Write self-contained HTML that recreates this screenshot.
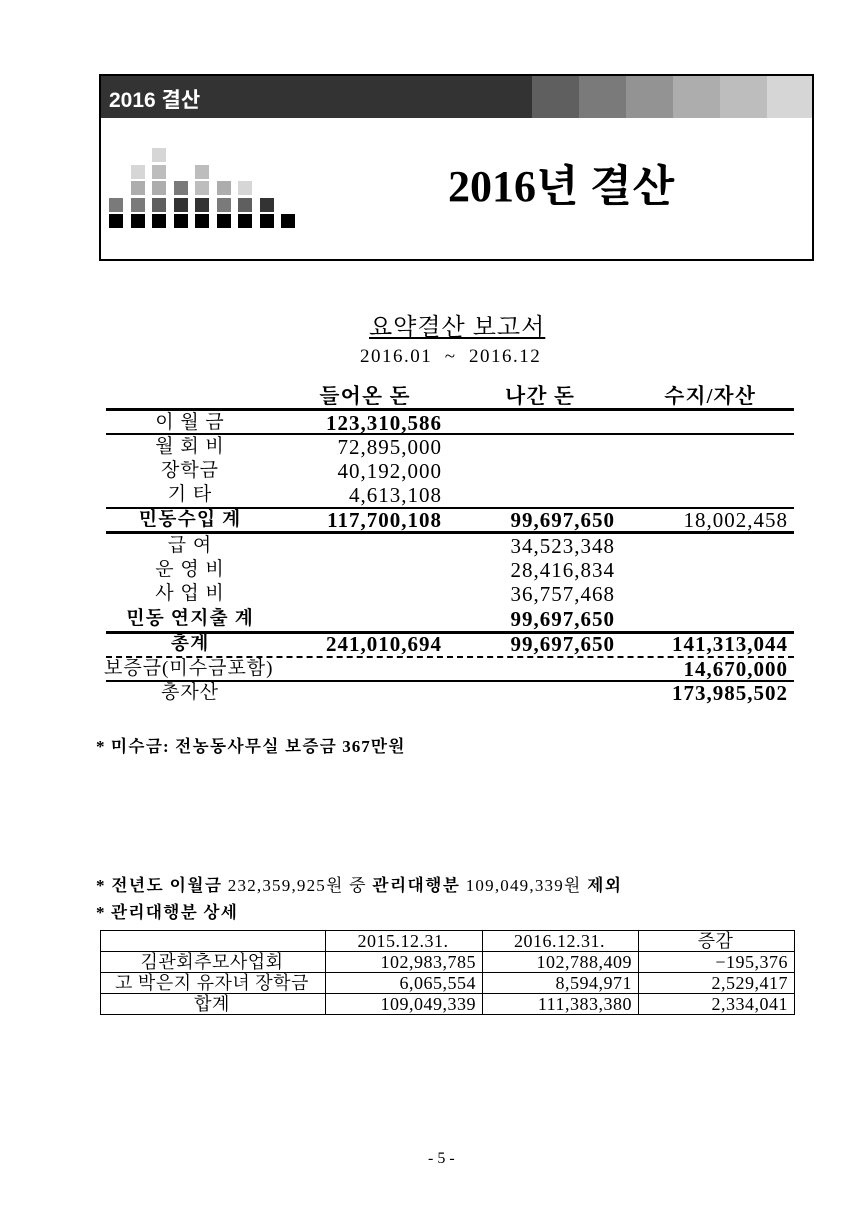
<!DOCTYPE html>
<html><head><meta charset="utf-8"><style>
body{margin:0;width:860px;height:1214px;background:#fff;position:relative;overflow:hidden;font-family:"Liberation Serif","Noto Serif CJK SC","Noto Sans CJK KR",serif;color:#000}
.a{position:absolute;white-space:nowrap}
.sq{position:absolute;width:14px;height:14px}
.t{position:absolute;font-size:21px;line-height:24px;letter-spacing:1px;white-space:nowrap}
.r{text-align:right}
.c{text-align:center}
.b{font-weight:bold}
.hl{position:absolute;left:106px;width:688px;background:#000}
table.s{position:absolute;left:100px;top:930px;border-collapse:collapse;font-size:18px;letter-spacing:0.5px}
table.s td{border:1px solid #000;height:20px;padding:0 6px 0 4px;line-height:20px;white-space:nowrap}
</style></head><body>
<div class="a" style="left:99px;top:74px;width:711px;height:183px;border:2px solid #000"></div>
<div class="a" style="left:101px;top:76px;width:431px;height:42px;background:#333"></div>
<div class="a" style="left:109px;top:84px;color:#fff;font:bold 21px 'Liberation Sans','Noto Sans CJK KR',sans-serif">2016 결산</div>
<div class="a" style="left:532px;top:76px;width:47px;height:42px;background:#5f5f5f"></div>
<div class="a" style="left:579px;top:76px;width:47px;height:42px;background:#7a7a7a"></div>
<div class="a" style="left:626px;top:76px;width:47px;height:42px;background:#939393"></div>
<div class="a" style="left:673px;top:76px;width:47px;height:42px;background:#adadad"></div>
<div class="a" style="left:720px;top:76px;width:47px;height:42px;background:#bdbdbd"></div>
<div class="a" style="left:767px;top:76px;width:45px;height:42px;background:#d6d6d6"></div>
<div id="sqs"></div>
<div class="a b" style="left:448px;top:160px;font-size:44px;line-height:54px">2016년 결산</div>

<div class="a" style="left:369px;top:307px;font-size:24px;letter-spacing:1px;text-decoration:underline">요약결산 보고서</div>
<div class="a" style="left:360px;top:346px;font-size:19px;letter-spacing:1.5px">2016.01 &nbsp;~ &nbsp;2016.12</div>

<div class="t c b" style="left:290px;top:384px;width:150px">들어온 돈</div>
<div class="t c b" style="left:475px;top:384px;width:130px">나간 돈</div>
<div class="t c b" style="left:645px;top:384px;width:130px">수지/자산</div>
<div class="hl" style="top:408px;height:3px"></div>
<div class="hl" style="top:433px;height:2px"></div>
<div class="hl" style="top:507px;height:2px"></div>
<div class="hl" style="top:531px;height:3px"></div>
<div class="hl" style="top:631px;height:3px"></div>
<div class="hl" style="top:656px;height:0;border-top:2px dashed #000;background:none"></div>
<div class="hl" style="top:680px;height:2px"></div>

<div id="rows"></div>

<div class="a b" style="left:96px;top:732px;font-size:17px;letter-spacing:1px">* 미수금: 전농동사무실 보증금 367만원</div>
<div class="a" style="left:96px;top:871px;font-size:17px;letter-spacing:1.2px"><b>* 전년도 이월금</b> 232,359,925원 중 <b>관리대행분</b> 109,049,339원 <b>제외</b></div>
<div class="a b" style="left:96px;top:898px;font-size:17px;letter-spacing:1px">* 관리대행분 상세</div>

<table class="s">
<tr><td style="width:214px"></td><td class="c" style="width:146px">2015.12.31.</td><td class="c" style="width:145px">2016.12.31.</td><td class="c" style="width:145px">증감</td></tr>
<tr><td class="c">김관회추모사업회</td><td class="r">102,983,785</td><td class="r">102,788,409</td><td class="r">−195,376</td></tr>
<tr><td class="c">고 박은지 유자녀 장학금</td><td class="r">6,065,554</td><td class="r">8,594,971</td><td class="r">2,529,417</td></tr>
<tr><td class="c">합계</td><td class="r">109,049,339</td><td class="r">111,383,380</td><td class="r">2,334,041</td></tr>
</table>

<div class="a" style="left:428px;top:1150px;font-size:16px">- 5 -</div>

<script>
const cols=[[0,'#000','#7a7a7a'],[1,'#000','#7a7a7a','#adadad','#d6d6d6'],[2,'#000','#5f5f5f','#adadad','#bdbdbd','#d6d6d6'],[3,'#000','#333','#7a7a7a'],[4,'#000','#333','#bdbdbd','#bdbdbd'],[5,'#000','#7a7a7a','#adadad'],[6,'#000','#5f5f5f','#d6d6d6'],[7,'#000','#333'],[8,'#000']];
const sq=document.getElementById('sqs');
cols.forEach(c=>{for(let i=1;i<c.length;i++){const d=document.createElement('div');d.className='sq';d.style.left=(109+c[0]*21.5)+'px';d.style.top=(214-(i-1)*16.5)+'px';d.style.background=c[i];sq.appendChild(d);}});
const labels=['이 월 금','월 회 비','장학금','기 타','민동수입 계','급 여','운 영 비','사 업 비','민동 연지출 계','총계','보증금(미수금포함)','총자산'];
const inc=['123,310,586','72,895,000','40,192,000','4,613,108','117,700,108','','','','','241,010,694','',''];
const out=['','','','','99,697,650','34,523,348','28,416,834','36,757,468','99,697,650','99,697,650','',''];
const bal=['','','','','18,002,458','','','','','141,313,044','14,670,000','173,985,502'];
const boldL=[0,0,0,0,1,0,0,0,1,1,0,0];
const boldInc=[1,0,0,0,1,0,0,0,0,1,0,0];
const boldOut=[0,0,0,0,1,0,0,0,1,1,0,0];
const boldBal=[0,0,0,0,0,0,0,0,0,1,1,1];
const tops=[411,435,459,483,508,534,558,582,607,632,657,681];
const rw=document.getElementById('rows');
function cell(txt,l,w,cls,b,t,fs){const d=document.createElement('div');d.className='t '+cls+(b?' b':'');d.style.left=l+'px';d.style.width=w+'px';d.style.top=t+'px';if(fs)d.style.fontSize=fs;d.textContent=txt;rw.appendChild(d);}
labels.forEach((l,i)=>{const t=tops[i];
cell(l,i==10?104:110,i==10?170:160,i==10?'':'c',boldL[i],t,'19px');
cell(inc[i],270,172,'r',boldInc[i],t);
cell(out[i],440,175,'r',boldOut[i],t);
cell(bal[i],610,178,'r',boldBal[i],t);});
</script>
</body></html>
